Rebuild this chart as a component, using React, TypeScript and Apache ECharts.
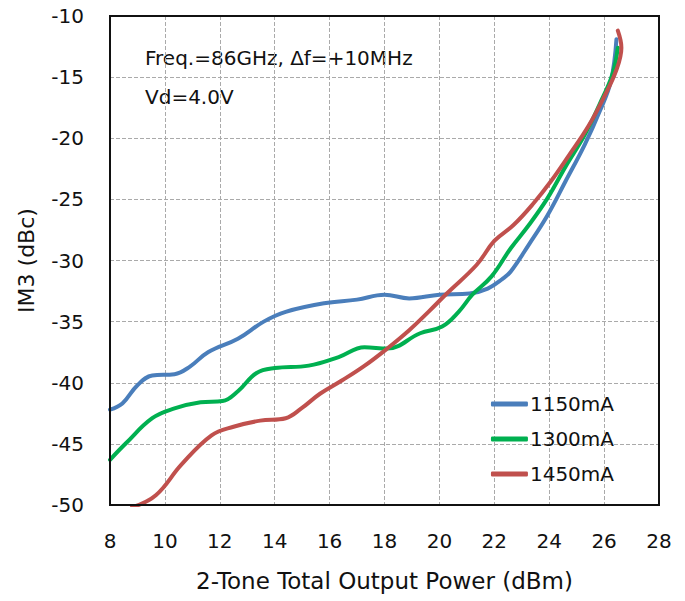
import React, { useEffect, useRef } from "react";
import * as echarts from "echarts";

const xTicks = [8, 10, 12, 14, 16, 18, 20, 22, 24, 26, 28];
const yTicks = [-10, -15, -20, -25, -30, -35, -40, -45, -50];

const seriesNames = ["1150mA", "1300mA", "1450mA"];

const s1150: [number, number][] = [
  [8.0, -42.2], [8.45, -41.7], [9.0, -40.2], [9.54, -39.4], [10.35, -39.3],
  [10.9, -38.7], [11.57, -37.5], [12.66, -36.4], [13.6, -35.0], [14.4, -34.2],
  [15.8, -33.5], [17.0, -33.2], [18.0, -32.8], [18.9, -33.1], [20.0, -32.8],
  [21.1, -32.7], [21.76, -32.3], [22.3, -31.5], [22.6, -30.9], [23.26, -28.7],
  [23.94, -26.3], [24.6, -23.5], [25.3, -20.5], [25.84, -17.8], [26.25, -15.3],
  [26.45, -11.9],
];

const s1300: [number, number][] = [
  [8.0, -46.3], [8.58, -44.95], [9.54, -42.9], [10.35, -42.1], [11.3, -41.6],
  [12.1, -41.5], [12.66, -40.7], [13.34, -39.2], [14.0, -38.8], [15.24, -38.6],
  [16.33, -37.9], [17.27, -37.1], [18.1, -37.2], [19.3, -35.95], [20.1, -35.4],
  [20.7, -34.2], [21.2, -32.8], [21.9, -31.3], [22.6, -29.0], [23.26, -27.1],
  [23.94, -24.9], [24.6, -22.3], [25.3, -19.7], [25.84, -17.2], [26.3, -14.8],
  [26.5, -12.6],
];

const s1450: [number, number][] = [
  [8.8, -50.2], [9.67, -49.2], [10.6, -46.7], [11.7, -44.3], [12.5, -43.6],
  [13.47, -43.1], [14.4, -42.9], [14.97, -42.1], [15.65, -40.9], [16.46, -39.8],
  [17.28, -38.6], [18.1, -37.2], [18.9, -35.7], [19.6, -34.2], [20.27, -32.7],
  [21.36, -30.35], [22.0, -28.4], [22.7, -27.1], [23.4, -25.4], [24.07, -23.5],
  [24.75, -21.3], [25.43, -19.0], [25.98, -16.7], [26.45, -14.4], [26.63, -12.6],
  [26.5, -11.2],
];

const seriesData = [s1150, s1300, s1450];
const colors = ["#4a7ebb", "#00b050", "#c0504d"];
const annotations = ["Freq.=86GHz, \u0394f=+10MHz", "Vd=4.0V"];

const FONT = "DejaVu Sans";

export default function App() {
  const ref = useRef<HTMLDivElement>(null);
  useEffect(() => {
    if (!ref.current) return;
    const chart = echarts.init(ref.current, null, { renderer: "svg" });
    chart.setOption({
      animation: false,
      grid: { left: 110, right: 26, top: 16, bottom: 96, show: false },
      xAxis: {
        type: "value",
        min: xTicks[0],
        max: xTicks[xTicks.length - 1],
        interval: 2,
        name: "2-Tone Total Output Power (dBm)",
        nameLocation: "middle",
        nameGap: 64,
        nameTextStyle: { fontFamily: FONT, fontSize: 23, color: "#111" },
        axisLine: { show: false },
        axisTick: { show: false },
        axisLabel: { fontFamily: FONT, fontSize: 20, color: "#111", margin: 26 },
        splitLine: { show: true, lineStyle: { type: "dashed", color: "#aaaaaa", width: 1 } },
      },
      yAxis: {
        type: "value",
        min: yTicks[yTicks.length - 1],
        max: yTicks[0],
        interval: 5,
        name: "IM3 (dBc)",
        nameLocation: "middle",
        nameGap: 73,
        nameTextStyle: { fontFamily: FONT, fontSize: 22, color: "#111" },
        axisLine: { show: false },
        axisTick: { show: false },
        axisLabel: { fontFamily: FONT, fontSize: 20, color: "#111", margin: 26 },
        splitLine: { show: true, lineStyle: { type: "dashed", color: "#aaaaaa", width: 1 } },
      },
      legend: {
        orient: "vertical",
        right: 66,
        top: 389,
        itemWidth: 37,
        itemHeight: 5,
        itemGap: 15,
        icon: "roundRect",
        textStyle: { fontFamily: FONT, fontSize: 20, color: "#111", padding: [0, 0, 0, -3] },
        data: seriesNames,
      },
      graphic: [
        {
          type: "rect",
          shape: { x: 110, y: 16, width: 549, height: 489 },
          style: { fill: "none", stroke: "#111", lineWidth: 2 },
          z: 10,
        },
        {
          type: "text",
          left: 145,
          top: 48,
          style: { text: annotations[0], fontFamily: FONT, fontSize: 20, fill: "#111" },
        },
        {
          type: "text",
          left: 145,
          top: 87,
          style: { text: annotations[1], fontFamily: FONT, fontSize: 20, fill: "#111" },
        },
      ],
      series: seriesNames.map((n, i) => ({
        name: n,
        type: "line",
        data: seriesData[i],
        smooth: 0.4,
        showSymbol: false,
        symbol: "none",
        lineStyle: { width: 4, color: colors[i], cap: "round" },
        itemStyle: { color: colors[i] },
        clip: true,
      })),
    });
    return () => chart.dispose();
  }, []);
  return <div ref={ref} style={{ width: 685, height: 601, position: "absolute", left: 0, top: 0 }} />;
}
